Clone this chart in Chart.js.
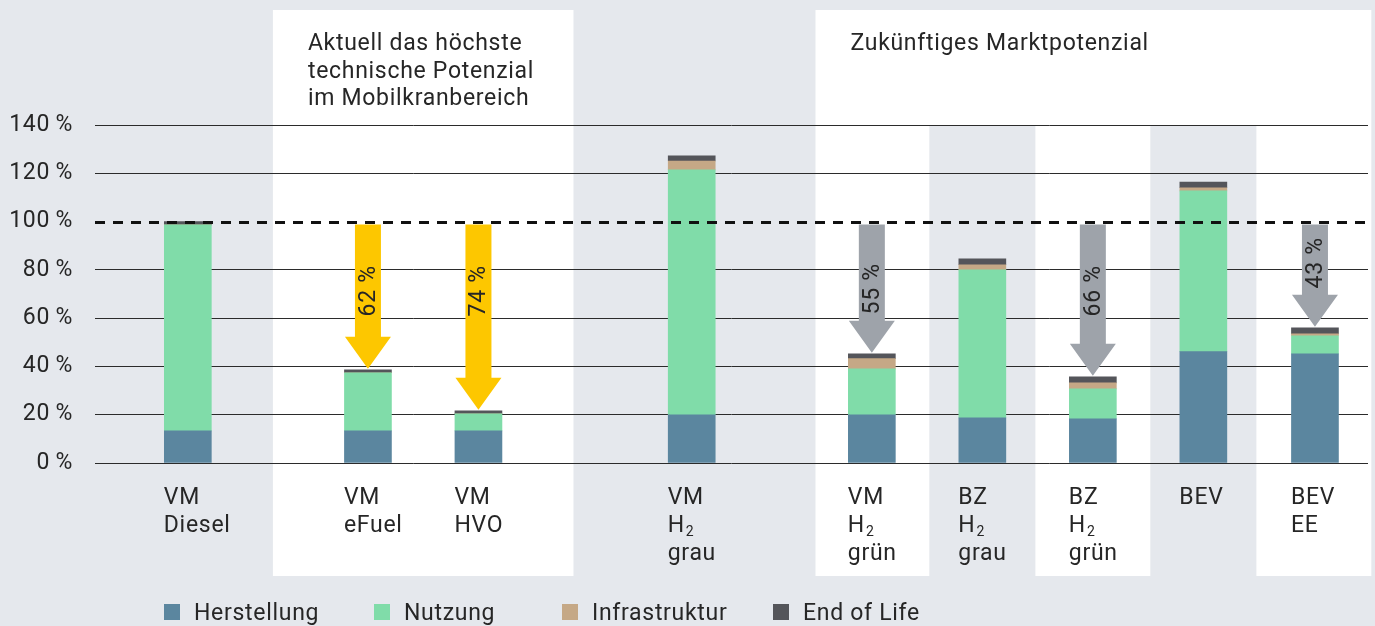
<!DOCTYPE html>
<html>
<head>
<meta charset="utf-8">
<script src="https://cdn.jsdelivr.net/npm/chart.js@4"></script>
<style>
    html, body { margin: 0; padding: 0; background: #e5e8ed; }
    #wrap { width: 1375px; height: 626px; position: relative; }
</style>
</head>
<body>
<div id="wrap"><canvas id="chart"></canvas></div>
<script>
// categories (multi-line labels), and their slot on the x axis
const categories = ["VM\nDiesel", "VM\neFuel", "VM\nHVO", "VM\nH₂\ngrau", "VM\nH₂\ngrün", "BZ\nH₂\ngrau", "BZ\nH₂\ngrün", "BEV", "BEV\nEE"];
const slots = [0.84, 2.47, 3.47, 5.40, 7.03, 8.03, 9.03, 10.03, 11.04];

// series values in % (Diesel = 100 %)
const herstellung   = [13.3, 13.3, 13.3, 20.0, 20.0, 18.7, 18.3, 46.1, 45.2];
const nutzung       = [85.3, 24.1, 7.1, 101.4, 19.0, 61.3, 12.4, 66.6, 7.5];
const infrastruktur = [0, 0, 0, 3.7, 4.2, 2.1, 2.5, 1.3, 0.8];
const endOfLife     = [1.4, 1.2, 1.2, 2.1, 2.0, 2.5, 2.5, 2.4, 2.5];

// reduction arrows
const arrowCats   = [1, 2, 4, 6, 8];
const arrowLabels = ["62 %", "74 %", "55 %", "66 %", "43 %"];
const referenceValue = 100;

// axis ticks
const yTicks = [0, 20, 40, 60, 80, 100, 120, 140];

// group headings and shaded panels
const leftPanelCats = [1, 2];
const rightPanelCats = [4, 8];
const stripeCats = [5, 7];
const leftHeading = ["Aktuell das höchste", "technische Potenzial", "im Mobilkranbereich"];
const rightHeading = ["Zukünftiges Marktpotenzial"];

const seriesNames = ["Herstellung", "Nutzung", "Infrastruktur", "End of Life"];
const seriesColors = ["#5b869f", "#80dca9", "#c5a886", "#54555a"];
const seriesValues = [herstellung, nutzung, infrastruktur, endOfLife];

const FONT = "Roboto";
const FSIZE = 23;
const SPACING = "0.7px";
const TEXT = "#262626";
const BG = "#e5e8ed";

const datasets = seriesNames.map((name, s) => ({
    label: name,
    data: slots.map((x, i) => ({ x, y: seriesValues[s][i] })),
    backgroundColor: seriesColors[s],
    borderWidth: 0,
    barThickness: 47,
}));

function totalOf(i) {
    return seriesValues.reduce((sum, arr) => sum + arr[i], 0);
}

// draw a label line, rendering "₂" as a real subscript
function drawLine(ctx, line, x, y) {
    const parts = line.split("₂");
    let cx = x;
    parts.forEach((p, k) => {
        ctx.font = FSIZE + "px " + FONT;
        ctx.fillText(p, cx, y);
        cx += ctx.measureText(p).width;
        if (k < parts.length - 1) {
            ctx.font = "14px " + FONT;
            ctx.fillText("2", cx + 1, y + 4);
            cx += ctx.measureText("2").width + 1;
        }
    });
}

const chartDecor = {
    id: "chartDecor",
    beforeDraw(chart) {
        const { ctx, chartArea, scales: { x } } = chart;
        ctx.save();
        ctx.fillStyle = BG;
        ctx.fillRect(0, 0, chart.width, chart.height);

        ctx.fillStyle = "#ffffff";
        const l0 = x.getPixelForValue(slots[leftPanelCats[0]] - 0.86);
        const l1 = x.getPixelForValue(slots[leftPanelCats[1]] + 0.86);
        ctx.fillRect(l0, 10, l1 - l0, 566);
        const r0 = x.getPixelForValue(slots[rightPanelCats[0]] - 0.51);
        const r1 = x.getPixelForValue(slots[rightPanelCats[1]] + 0.51);
        ctx.fillRect(r0, 10, r1 - r0, 566);

        ctx.fillStyle = BG;
        stripeCats.forEach((c) => {
            const s0 = x.getPixelForValue(slots[c] - 0.48);
            const s1 = x.getPixelForValue(slots[c] + 0.48);
            ctx.fillRect(s0, chartArea.top, s1 - s0, 576 - chartArea.top);
        });
        ctx.restore();
        // wider tracking for all text, tick labels included
        ctx.letterSpacing = SPACING;
    },
    afterDatasetsDraw(chart) {
        const { ctx, chartArea, scales: { x, y } } = chart;
        ctx.save();

        // dashed 100 % reference line
        const yRef = Math.round(y.getPixelForValue(referenceValue)) + 0.5;
        ctx.strokeStyle = "#111111";
        ctx.lineWidth = 3;
        ctx.setLineDash([10, 8]);
        ctx.beginPath();
        ctx.moveTo(chartArea.left, yRef);
        ctx.lineTo(chartArea.right, yRef);
        ctx.stroke();
        ctx.setLineDash([]);

        // reduction arrows
        arrowCats.forEach((c, k) => {
            const cx = x.getPixelForValue(slots[c]);
            const top = yRef + 2;
            const tip = y.getPixelForValue(totalOf(c)) - 1;
            const headStart = tip - 32;
            ctx.fillStyle = c < 3 ? "#fdc700" : "#9ea3aa";
            ctx.beginPath();
            ctx.moveTo(cx - 13, top);
            ctx.lineTo(cx + 13, top);
            ctx.lineTo(cx + 13, headStart);
            ctx.lineTo(cx + 23, headStart);
            ctx.lineTo(cx, tip);
            ctx.lineTo(cx - 23, headStart);
            ctx.lineTo(cx - 13, headStart);
            ctx.closePath();
            ctx.fill();

            const ly = Math.min(headStart - 32, y.getPixelForValue(71.3));
            ctx.save();
            ctx.translate(cx + 1, ly);
            ctx.rotate(-Math.PI / 2);
            ctx.fillStyle = TEXT;
            ctx.font = FSIZE + "px " + FONT;
            ctx.textAlign = "center";
            ctx.textBaseline = "middle";
            ctx.fillText(arrowLabels[k], 0, 0);
            ctx.restore();
        });
        ctx.restore();
    },
    afterDraw(chart) {
        const { ctx, scales: { x } } = chart;
        ctx.save();
        ctx.letterSpacing = SPACING;
        ctx.fillStyle = TEXT;
        ctx.textBaseline = "alphabetic";
        ctx.textAlign = "left";

        // group headings
        const l0 = x.getPixelForValue(slots[leftPanelCats[0]] - 0.86);
        const r0 = x.getPixelForValue(slots[rightPanelCats[0]] - 0.51);
        ctx.font = FSIZE + "px " + FONT;
        leftHeading.forEach((t, k) => ctx.fillText(t, l0 + 35, 50 + k * 27.5));
        rightHeading.forEach((t, k) => ctx.fillText(t, r0 + 35, 50 + k * 27.5));

        // category labels, left aligned with the bar
        categories.forEach((label, i) => {
            const lx = x.getPixelForValue(slots[i]) - 24;
            label.split("\n").forEach((line, k) => drawLine(ctx, line, lx, 504 + k * 28));
        });

        // legend
        const legendX = [164, 374, 562, 773];
        seriesNames.forEach((name, s) => {
            ctx.fillStyle = seriesColors[s];
            ctx.fillRect(legendX[s], 604, 16, 16);
            ctx.fillStyle = TEXT;
            ctx.font = FSIZE + "px " + FONT;
            ctx.fillText(name, legendX[s] + 30, 620);
        });
        ctx.restore();
    },
};

new Chart(document.getElementById("chart"), {
    type: "bar",
    data: { datasets },
    options: {
        responsive: true,
        maintainAspectRatio: false,
        animation: false,
        layout: { padding: { left: 0, right: 7, top: 125, bottom: 163 } },
        plugins: {
            legend: { display: false },
            tooltip: { enabled: false },
        },
        scales: {
            x: {
                type: "linear",
                min: 0,
                max: 11.52,
                offset: false,
                stacked: true,
                display: false,
                grid: { offset: false },
            },
            y: {
                stacked: true,
                min: yTicks[0],
                max: yTicks[yTicks.length - 1],
                afterBuildTicks: (scale) => { scale.ticks = yTicks.map((v) => ({ value: v })); },
                afterFit: (scale) => { scale.width = 95; },
                ticks: {
                    color: TEXT,
                    font: { family: FONT, size: FSIZE },
                    padding: 22,
                    callback: (v) => v + "\u2009%",
                },
                grid: {
                    color: (c) => (c.tick && c.tick.value === referenceValue ? "rgba(0,0,0,0)" : "#2b2b2b"),
                    lineWidth: 1,
                    drawTicks: false,
                },
                border: { display: false },
            },
        },
    },
    plugins: [chartDecor],
});
</script>
</body>
</html>
